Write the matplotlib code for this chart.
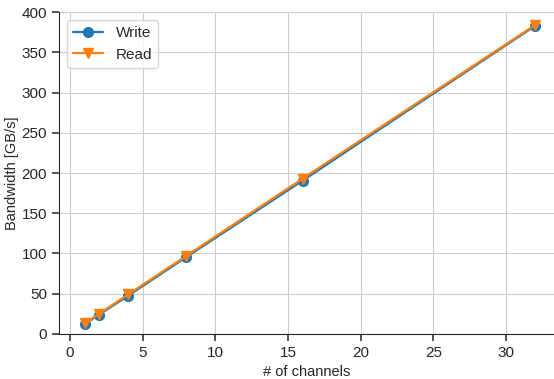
import matplotlib.pyplot as plt
import seaborn as sns

channels = [1, 2, 4, 8, 16, 32]
write_bw = [12, 24, 47.5, 95.5, 190.5, 383]
read_bw = [13, 25, 49, 97, 193, 384]

sns.set_style("ticks")
plt.rcParams['font.family'] = ['Liberation Sans', 'DejaVu Sans']

fig, ax = plt.subplots(figsize=(5.54, 3.79), dpi=100)
ax.plot(channels, write_bw, marker="o", markersize=7, linewidth=1.6, label="Write", color="#1f77b4")
ax.plot(channels, read_bw, marker="v", markersize=7, linewidth=1.6, label="Read", color="#ff7f0e")
ax.set_ylim(0, 400)
ax.set_xlim(-0.76, 33.3)
ax.set_xlabel("# of channels", fontsize=10.5)
ax.set_ylabel("Bandwidth [GB/s]", fontsize=10.5, labelpad=2)
ax.tick_params(labelsize=11, length=5, width=1.1, color="#262626", direction="out")
ax.grid(True, color="#cccccc")
ax.legend(loc="upper left", fontsize=11)
sns.despine(ax=ax)
fig.subplots_adjust(left=0.1065, right=1.0, top=0.968, bottom=0.119)
fig.savefig("out.png")
